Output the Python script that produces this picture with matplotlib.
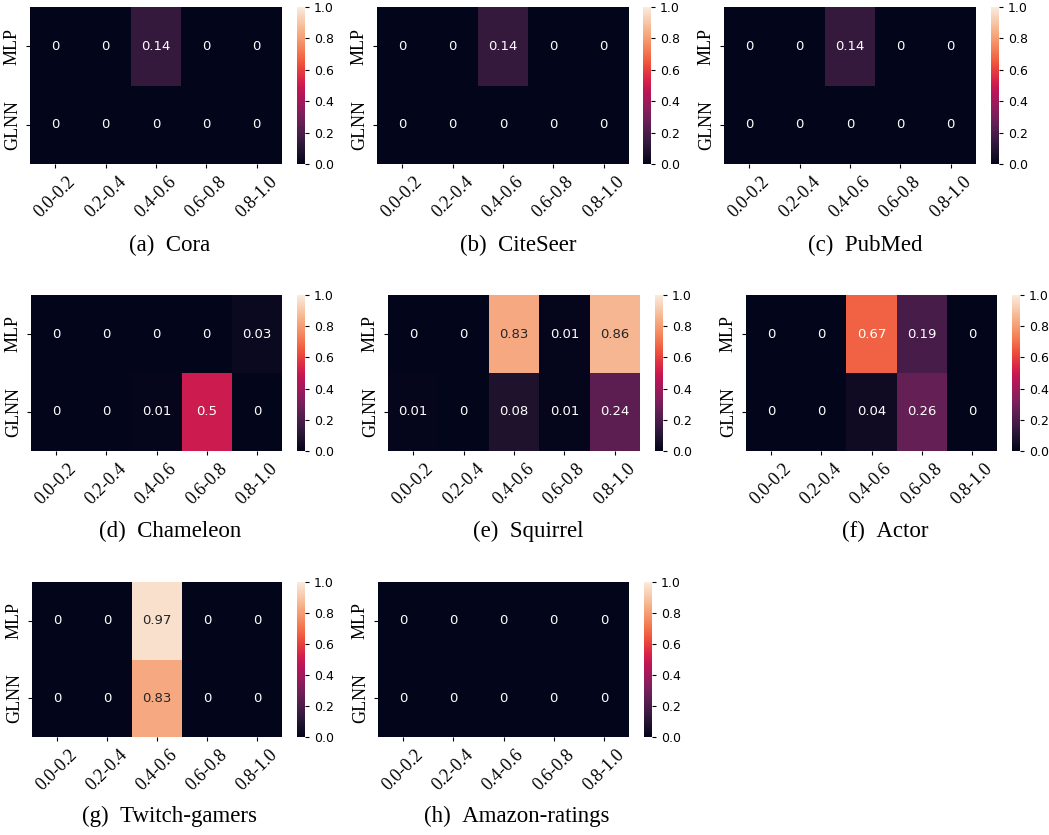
import numpy as np
import matplotlib
matplotlib.use('Agg')
import matplotlib.pyplot as plt
import seaborn as sns

# bins and models
bins = ['0.0-0.2', '0.2-0.4', '0.4-0.6', '0.6-0.8', '0.8-1.0']
models = ['MLP', 'GLNN']

# proportion values per dataset (rows: MLP, GLNN)
cora = [[0, 0, 0.14, 0, 0], [0, 0, 0, 0, 0]]
citeseer = [[0, 0, 0.14, 0, 0], [0, 0, 0, 0, 0]]
pubmed = [[0, 0, 0.14, 0, 0], [0, 0, 0, 0, 0]]
chameleon = [[0, 0, 0, 0, 0.03], [0, 0, 0.01, 0.5, 0]]
squirrel = [[0, 0, 0.83, 0.01, 0.86], [0.01, 0, 0.08, 0.01, 0.24]]
actor = [[0, 0, 0.67, 0.19, 0], [0, 0, 0.04, 0.26, 0]]
twitch = [[0, 0, 0.97, 0, 0], [0, 0, 0.83, 0, 0]]
amazon = [[0, 0, 0, 0, 0], [0, 0, 0, 0, 0]]

datasets = [cora, citeseer, pubmed, chameleon, squirrel, actor, twitch, amazon]
captions = ['(a) Cora', '(b) CiteSeer', '(c) PubMed', '(d) Chameleon',
            '(e) Squirrel', '(f) Actor', '(g) Twitch-gamers', '(h) Amazon-ratings']

W, H = 1049, 835
# pixel layout: heatmap left, right, top, bottom, colorbar left, caption x, caption y
layout = [
    (30, 282, 7, 164, 297, 170, 245),
    (377, 629, 7, 164, 643, 518, 245),
    (724, 976, 7, 164, 991, 865, 245),
    (31, 282, 295, 451, 297, 170, 531),
    (388, 640, 295, 451, 655, 528, 531),
    (746, 997, 295, 451, 1012, 885, 531),
    (32, 282, 582, 737, 297, 170, 816),
    (378, 629, 582, 737, 644, 517, 816),
]

serif = ['Liberation Serif', 'DejaVu Serif']

fig = plt.figure(figsize=(W / 100, H / 100), dpi=100)

for data, cap, (l, r, t, b, cl, cx, cy) in zip(datasets, captions, layout):
    ax = fig.add_axes([l / W, 1 - b / H, (r - l) / W, (b - t) / H])
    cax = fig.add_axes([cl / W, 1 - b / H, 8 / W, (b - t) / H])
    sns.heatmap(np.array(data), ax=ax, cbar_ax=cax, cmap='rocket', vmin=0, vmax=1,
                annot=True, annot_kws={'size': 9.5, 'family': 'DejaVu Sans'})
    ax.set_xticklabels(bins, rotation=45, ha='center', family=serif, size=13)
    ax.set_yticklabels(models, rotation=90, va='center', family=serif, size=13)
    ax.tick_params(length=3, width=0.8)
    cax.set_yticks([0, 0.2, 0.4, 0.6, 0.8, 1.0])
    cax.tick_params(length=3, width=0.8)
    for lab in cax.get_yticklabels():
        lab.set_family('DejaVu Sans')
        lab.set_size(9)
    fig.text(cx / W, 1 - cy / H, cap.replace(' ', '\u2002', 1), ha='center', va='center',
             family=serif, size=16.5)

fig.savefig('out.png', dpi=100)
